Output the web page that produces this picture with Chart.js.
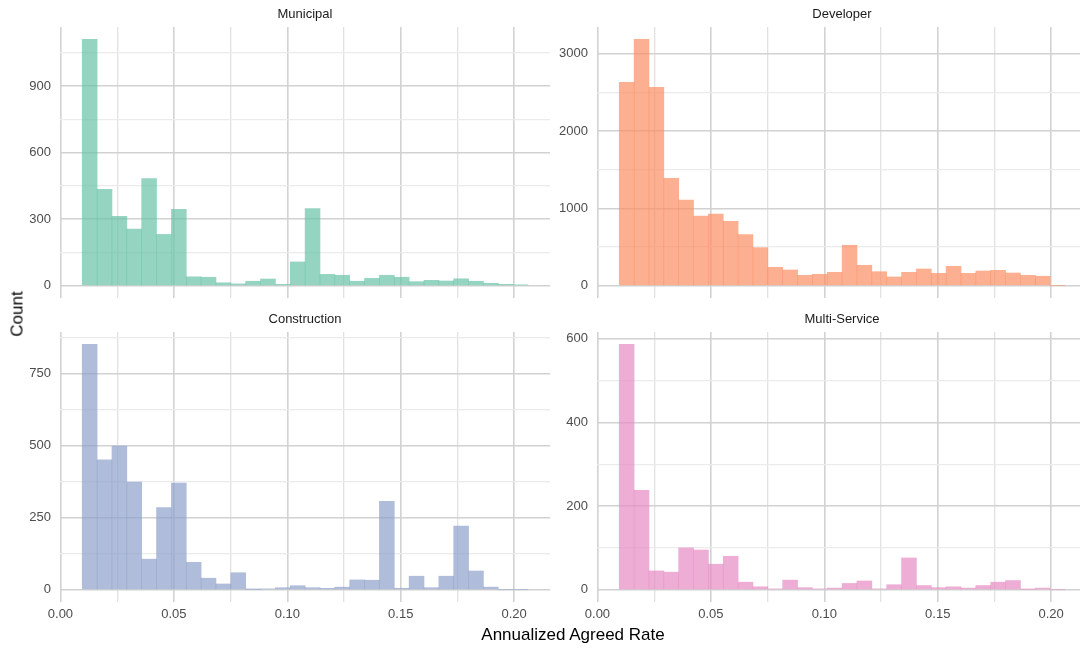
<!DOCTYPE html>
<html>
<head>
<meta charset="utf-8">
<script src="https://cdn.jsdelivr.net/npm/chart.js@4.4.0/dist/chart.umd.min.js"></script>
<style>
  html, body { margin: 0; padding: 0; background: #fff; }
  body { width: 1080px; height: 648px; position: relative; overflow: hidden; font-family: "Liberation Sans", Arial, sans-serif; }
  canvas { position: absolute; }
  .axis-title { position: absolute; font-size: 17px; line-height: 1; color: #000; white-space: nowrap; }
  #yTitle { left: 17px; top: 314px; transform: translate(-50%, -50%) rotate(-90deg); }
  #xTitle { left: 573px; top: 634px; transform: translate(-50%, -50%); }
</style>
</head>
<body>
<canvas id="municipal" style="left:0;top:0" width="550" height="298"></canvas>
<canvas id="developer" style="left:537px;top:0" width="550" height="298"></canvas>
<canvas id="construction" style="left:0;top:310px" width="550" height="322"></canvas>
<canvas id="multiService" style="left:537px;top:310px" width="550" height="322"></canvas>
<div class="axis-title" id="yTitle">Count</div>
<div class="axis-title" id="xTitle">Annualized Agreed Rate</div>

<script>
// Titik tengah bin histogram (30 bin, sama untuk semua panel)
const binMids = [
  0.01288, 0.01943, 0.02598, 0.03253, 0.03908, 0.04563, 0.05218, 0.05873, 0.06528, 0.07183,
  0.07838, 0.08493, 0.09148, 0.09803, 0.10458, 0.11113, 0.11768, 0.12423, 0.13078, 0.13733,
  0.14388, 0.15043, 0.15698, 0.16353, 0.17008, 0.17663, 0.18318, 0.18973, 0.19628, 0.20283
];

// Jumlah per bin untuk tiap kategori
const municipal = [
  1110, 434, 312, 255, 483, 231, 344, 40, 38, 13,
  8, 20, 30, 6, 107, 347, 51, 47, 20, 33,
  47, 38, 18, 24, 21, 31, 20, 11, 6, 4
];
const developer = [
  2632, 3188, 2567, 1390, 1109, 902, 928, 833, 660, 492,
  238, 203, 134, 147, 173, 523, 264, 181, 113, 173,
  216, 160, 251, 160, 190, 199, 164, 134, 122, 0
];
const construction = [
  852, 451, 499, 374, 106, 285, 370, 95, 40, 20,
  59, 1, 3, 7, 14, 7, 5, 9, 34, 33,
  307, 5, 47, 7, 47, 221, 65, 9, 0, 0
];
const multiService = [
  587, 238, 45, 42, 100, 95, 61, 80, 18, 7,
  2, 23, 5, 2, 4, 15, 21, 2, 12, 76,
  10, 5, 7, 4, 10, 18, 22, 1, 4, 0
];

// Tick sumbu x (major tiap 0.05, minor di tengahnya)
const xTicks = [0, 0.025, 0.05, 0.075, 0.1, 0.125, 0.15, 0.175, 0.2];
const xTickLabels = ['0.00', '0.05', '0.10', '0.15', '0.20'];

// Batas sumbu x (histogram + ekspansi 5%)
const xMin = -0.0002;
const xMax = 0.2158;

const FONT = '"Liberation Sans", Arial, sans-serif';
const MAJOR_GRID = '#d2d2d2';
const MINOR_GRID = '#ebebeb';

function isMajor(value, step) {
  const r = value / step;
  return Math.abs(r - Math.round(r)) < 1e-6;
}

// Label strip di atas tiap panel (seperti facet_wrap)
const stripPlugin = {
  id: 'strip',
  afterDraw(chart, args, opts) {
    const area = chart.chartArea;
    const ctx = chart.ctx;
    ctx.save();
    ctx.font = '13px ' + FONT;
    ctx.fillStyle = '#1a1a1a';
    ctx.textAlign = 'center';
    ctx.textBaseline = 'middle';
    ctx.fillText(opts.text, (area.left + area.right) / 2, area.top - 13);
    ctx.restore();
  }
};

function makePanel(id, title, counts, color, yMajor, bottomRow) {
  const maxCount = Math.max(...counts);
  const yMax = 1.05 * maxCount;
  return new Chart(document.getElementById(id), {
    type: 'bar',
    data: {
      datasets: [{
        data: binMids.map((x, i) => ({ x: x, y: counts[i] })),
        backgroundColor: color,
        borderWidth: 0,
        barPercentage: 1,
        categoryPercentage: 1,
      }],
    },
    options: {
      responsive: false,
      animation: false,
      layout: { padding: { top: bottomRow ? 22 : 27, left: 0, right: 0, bottom: 0 } },
      plugins: {
        legend: { display: false },
        tooltip: { enabled: false },
        strip: { text: title },
      },
      scales: {
        x: {
          type: 'linear',
          min: xMin,
          max: xMax,
          offset: false,
          border: { display: false },
          grid: {
            offset: false,
            drawTicks: false,
            color: ctx => (ctx.tick && isMajor(ctx.tick.value, 0.05)) ? MAJOR_GRID : '#e2e2e2',
            lineWidth: ctx => (ctx.tick && isMajor(ctx.tick.value, 0.05)) ? 1.6 : 1.3,
          },
          ticks: {
            display: bottomRow,
            autoSkip: false,
            maxRotation: 0,
            padding: 5,
            color: '#4d4d4d',
            font: { family: FONT, size: 13 },
            callback: v => isMajor(v, 0.05) ? xTickLabels[Math.round(v / 0.05)] : '',
          },
          afterBuildTicks: s => { s.ticks = xTicks.map(v => ({ value: v })); },
          afterFit: s => {
            s.height = bottomRow ? 30 : 0;
            s.paddingLeft = 0;
            s.paddingRight = 0;
          },
        },
        y: {
          min: -0.05 * maxCount,
          max: yMax,
          border: { display: false },
          grid: {
            drawTicks: false,
            color: ctx => (ctx.tick && isMajor(ctx.tick.value, yMajor)) ? MAJOR_GRID : MINOR_GRID,
            lineWidth: ctx => (ctx.tick && isMajor(ctx.tick.value, yMajor)) ? 1.6 : 1.2,
          },
          ticks: {
            autoSkip: false,
            padding: 9,
            color: '#4d4d4d',
            font: { family: FONT, size: 13 },
            callback: v => isMajor(v, yMajor) ? String(Math.round(v)) : '',
          },
          // garis grid tiap setengah langkah major, mulai dari 0
          afterBuildTicks: s => {
            const ticks = [];
            for (let v = 0; v <= yMax; v += yMajor / 2) ticks.push({ value: v });
            s.ticks = ticks;
          },
          afterFit: s => {
            s.width = 60;
            s.paddingTop = 0;
            s.paddingBottom = 0;
          },
        },
      },
    },
    plugins: [stripPlugin],
  });
}

makePanel('municipal', 'Municipal', municipal, 'rgba(102,194,165,0.7)', 300, false);
makePanel('developer', 'Developer', developer, 'rgba(252,141,98,0.7)', 1000, false);
makePanel('construction', 'Construction', construction, 'rgba(141,160,203,0.7)', 250, true);
makePanel('multiService', 'Multi-Service', multiService, 'rgba(231,138,195,0.7)', 200, true);
</script>
</body>
</html>
